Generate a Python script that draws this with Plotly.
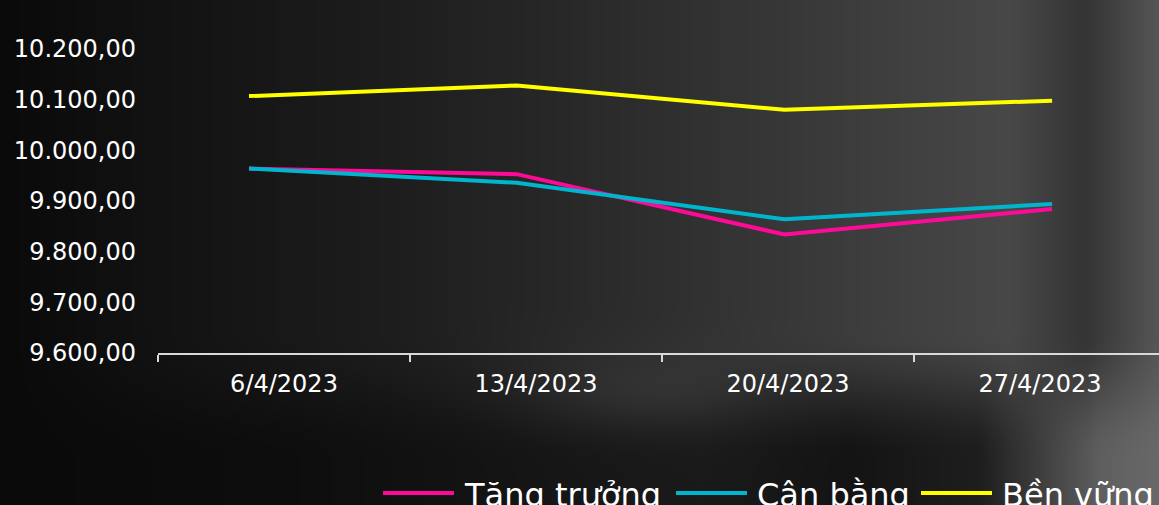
import base64, struct, zlib
import numpy as np
import plotly.graph_objects as go

# ---- data ----
dates = ["6/4/2023", "13/4/2023", "20/4/2023", "27/4/2023"]
series_names = ["Tăng trưởng", "Cân bằng", "Bền vững"]
tang_truong = [9964, 9953, 9834, 9884]
can_bang = [9964, 9936, 9864, 9894]
ben_vung = [10107, 10128, 10080, 10098]
series_values = [tang_truong, can_bang, ben_vung]
series_colors = ["#FF0A98", "#00B6CF", "#FFFF00"]

W, H = 1159, 505
L_M, R_M, T_M, B_M = 158, 0, 49, 152
PW, PH = W - L_M - R_M, H - T_M - B_M


def px_x(px):
    return (px - L_M) / PW


def px_y(py):
    return (H - B_M - py) / PH


# ---- background image (dark photographic gradient) ----
def make_bg(w, h):
    xs = np.arange(w)
    ys = np.arange(h)[:, None]
    top = np.interp(xs, [0, 150, 400, 650, 900, 1010, 1085, 1159],
                    [10, 18, 30, 46, 64, 72, 52, 86])
    bot = np.interp(xs, [0, 300, 550, 700, 850, 980, 1100, 1159],
                    [10, 14, 22, 26, 20, 30, 95, 105])
    t = np.clip((ys - 330) / 130.0, 0, 1)
    t = t * t * (3 - 2 * t)
    img = top[None, :] * (1 - t) + bot[None, :] * t
    X, Y = np.meshgrid(xs, np.arange(h))
    img += 14 * np.exp(-(((X - 640) / 120.0) ** 2 + ((Y - 395) / 40.0) ** 2))
    img = np.clip(img, 0, 255).astype(np.uint8)
    raw = b"".join(b"\x00" + img[r].tobytes() for r in range(h))

    def chunk(tag, data):
        c = struct.pack(">I", len(data)) + tag + data
        return c + struct.pack(">I", zlib.crc32(tag + data) & 0xFFFFFFFF)

    png = b"\x89PNG\r\n\x1a\n"
    png += chunk(b"IHDR", struct.pack(">IIBBBBB", w, h, 8, 0, 0, 0, 0))
    png += chunk(b"IDAT", zlib.compress(raw, 9))
    png += chunk(b"IEND", b"")
    return "data:image/png;base64," + base64.b64encode(png).decode()


bg_src = make_bg(W, H)

fig = go.Figure()
for name, vals, col in zip(series_names, series_values, series_colors):
    fig.add_trace(go.Scatter(
        x=dates, y=vals, name=name, mode="lines",
        line=dict(color=col, width=4),
        xaxis="x2", yaxis="y", showlegend=False,
    ))

# empty helper trace so the visible category axis knows the categories
fig.add_trace(go.Scatter(x=dates, y=[None] * len(dates), xaxis="x",
                         showlegend=False, hoverinfo="skip"))

font_family = "'DejaVu Sans', sans-serif"

# ---- legend (key line + label for each series), laid out in pixels ----
legend_line_x = [383, 676, 921]
legend_key_len = 71
legend_text_gap = 8
legend_key_y = 493
legend_text_y = 495
shapes = []
annotations = []
for name, col, lx in zip(series_names, series_colors, legend_line_x):
    shapes.append(dict(
        type="line", xref="paper", yref="paper",
        x0=px_x(lx), x1=px_x(lx + legend_key_len),
        y0=px_y(legend_key_y), y1=px_y(legend_key_y),
        line=dict(color=col, width=4),
    ))
    annotations.append(dict(
        text=name, xref="paper", yref="paper",
        x=px_x(lx + legend_key_len + legend_text_gap), y=px_y(legend_text_y),
        xanchor="left", yanchor="middle", showarrow=False,
        font=dict(size=32, color="#ffffff", family=font_family),
    ))

fig.update_layout(
    width=W, height=H,
    margin=dict(l=L_M, r=R_M, t=T_M, b=B_M, pad=0),
    paper_bgcolor="#161616",
    plot_bgcolor="rgba(0,0,0,0)",
    separators=",.",
    font=dict(family=font_family, color="#ffffff"),
    images=[dict(
        source=bg_src, xref="paper", yref="paper",
        x=-L_M / PW, y=1 + T_M / PH, sizex=W / PW, sizey=H / PH,
        xanchor="left", yanchor="top", sizing="stretch", layer="below",
    )],
    xaxis=dict(
        type="category", categoryorder="array", categoryarray=dates,
        range=[-0.5, -0.5 + PW / 252.0],
        showgrid=False, zeroline=False,
        showline=True, linecolor="#d9d9d9", linewidth=2,
        ticks="outside", tickson="boundaries", ticklen=7, tickwidth=1.5,
        tickcolor="#d9d9d9",
        tickfont=dict(size=24, color="#ffffff", family=font_family),
        ticklabelstandoff=8,
    ),
    xaxis2=dict(
        type="category", categoryorder="array", categoryarray=dates,
        overlaying="x", visible=False,
        range=[(L_M - 249) / 267.7, (W - 249) / 267.7],
    ),
    yaxis=dict(
        range=[9600, 10200], dtick=100, tickformat=",.2f",
        showgrid=False, zeroline=False, showline=False,
        tickfont=dict(size=24, color="#ffffff", family=font_family),
        ticklabelstandoff=21,
    ),
    showlegend=False,
    shapes=shapes,
    annotations=annotations,
)

fig.write_html(
    "out.html",
    config={"displayModeBar": False},
    post_script="document.body.style.margin='0';document.body.style.padding='0';",
)
